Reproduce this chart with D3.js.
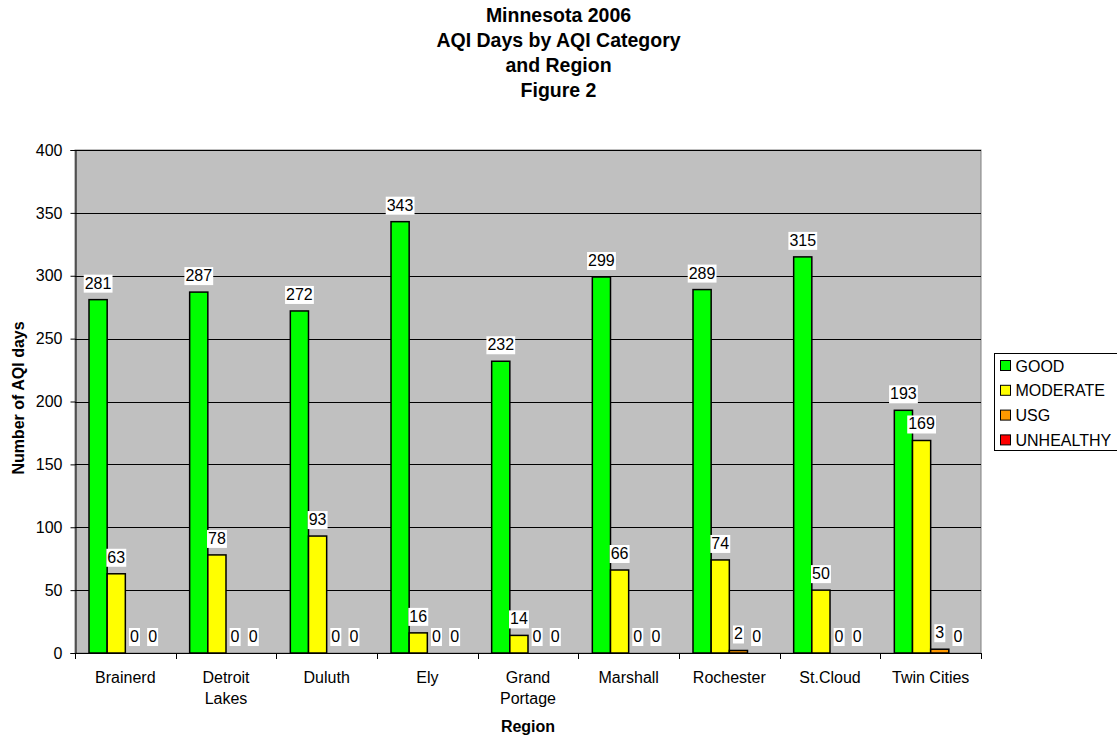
<!DOCTYPE html>
<html>
<head>
<meta charset="utf-8">
<script src="https://cdn.jsdelivr.net/npm/d3@7"></script>
<style>
  body { margin: 0; background: #fff; }
  svg { font-family: "Liberation Sans", Arial, sans-serif; }
</style>
</head>
<body>
<svg width="1117" height="738"></svg>
<script>
const regions = [["Brainerd"], ["Detroit", "Lakes"], ["Duluth"], ["Ely"], ["Grand", "Portage"],
    ["Marshall"], ["Rochester"], ["St.Cloud"], ["Twin Cities"]];
const categories = ["GOOD", "MODERATE", "USG", "UNHEALTHY"];
const colors = ["#00FF00", "#FFFF00", "#FF9900", "#FF0000"];
const good = [281, 287, 272, 343, 232, 299, 289, 315, 193];
const moderate = [63, 78, 93, 16, 14, 66, 74, 50, 169];
const usg = [0, 0, 0, 0, 0, 0, 2, 0, 3];
const unhealthy = [0, 0, 0, 0, 0, 0, 0, 0, 0];
const series = [good, moderate, usg, unhealthy];
const yTicks = [0, 50, 100, 150, 200, 250, 300, 350, 400];
const titleLines = ["Minnesota 2006", "AQI Days by AQI Category", "and Region", "Figure 2"];

var svg = d3.select("svg");
var pLeft = 75, pRight = 981, pTop = 150, pBottom = 653;
var fs = 16;

// title
svg.append("text")
    .attr("text-anchor", "middle")
    .attr("font-size", 19.5)
    .attr("font-weight", "bold")
    .selectAll("tspan")
    .data(titleLines)
    .join("tspan")
    .attr("x", 558.5)
    .attr("y", (d, i) => 21.5 + i * 25.3)
    .text(d => d);

var x0 = d3.scaleBand()
    .domain(d3.range(regions.length))
    .range([pLeft, pRight]);

var gap = 14;
var x1 = d3.scaleBand()
    .domain(d3.range(categories.length))
    .range([gap, x0.bandwidth() - gap]);

var y = d3.scaleLinear()
    .domain([0, 400])
    .range([pBottom, pTop]);

// plot background
svg.append("rect")
    .attr("x", pLeft).attr("y", pTop)
    .attr("width", pRight - pLeft).attr("height", pBottom - pTop)
    .attr("fill", "#C0C0C0")
    .attr("stroke", "#808080");

// gridlines
svg.append("g")
    .selectAll("line")
    .data(yTicks.slice(1))
    .join("line")
    .attr("x1", pLeft).attr("x2", pRight)
    .attr("y1", d => Math.round(y(d)) + 0.5).attr("y2", d => Math.round(y(d)) + 0.5)
    .attr("stroke", "#000").attr("stroke-width", 1);

// y axis
var yAxis = svg.append("g")
    .attr("transform", "translate(" + (pLeft + 0.5) + ",0)")
    .call(d3.axisLeft(y).tickValues(yTicks).tickSize(5).tickPadding(8));
yAxis.select(".domain").attr("stroke", "#000");
yAxis.selectAll("text").attr("font-size", fs).attr("font-family", "Liberation Sans, Arial, sans-serif").attr("fill", "#000");

// x axis
var xAxisG = svg.append("g");
xAxisG.append("line")
    .attr("x1", pLeft).attr("x2", pRight)
    .attr("y1", pBottom + 0.5).attr("y2", pBottom + 0.5)
    .attr("stroke", "#000");
xAxisG.selectAll("line.tick")
    .data(d3.range(regions.length + 1))
    .join("line")
    .attr("class", "tick")
    .attr("x1", d => Math.round(pLeft + d * x0.step()) + 0.5)
    .attr("x2", d => Math.round(pLeft + d * x0.step()) + 0.5)
    .attr("y1", pBottom).attr("y2", pBottom + 6)
    .attr("stroke", "#000");
xAxisG.selectAll("text")
    .data(regions)
    .join("text")
    .attr("text-anchor", "middle")
    .attr("font-size", fs)
    .selectAll("tspan")
    .data((d, i) => d.map(s => ({ s: s, i: i })))
    .join("tspan")
    .attr("x", d => x0(d.i) + x0.bandwidth() / 2)
    .attr("y", (d, j) => 683 + j * 21)
    .text(d => d.s);

// axis titles
svg.append("text")
    .attr("x", x0(4) + x0.bandwidth() / 2).attr("y", 731.5)
    .attr("text-anchor", "middle")
    .attr("font-size", fs).attr("font-weight", "bold")
    .text("Region");
svg.append("text")
    .attr("transform", "translate(24," + 398 + ") rotate(-90)")
    .attr("text-anchor", "middle")
    .attr("font-size", fs).attr("font-weight", "bold")
    .text("Number of AQI days");

// bars
var groups = svg.append("g")
    .selectAll("g")
    .data(regions.map((r, i) => i))
    .join("g")
    .attr("transform", d => "translate(" + x0(d) + ",0)");

groups.selectAll("rect")
    .data(i => series.map((s, k) => ({ k: k, v: s[i] })))
    .join("rect")
    .attr("x", d => x1(d.k))
    .attr("y", d => y(d.v))
    .attr("width", x1.bandwidth())
    .attr("height", d => pBottom - y(d.v))
    .attr("fill", d => colors[d.k])
    .attr("stroke", "#000")
    .attr("stroke-width", d => d.v > 0 ? 1.5 : 0);

// value labels
var labels = groups.selectAll("g.lbl")
    .data(i => series.map((s, k) => ({ k: k, v: s[i] })))
    .join("g")
    .attr("class", "lbl");

labels.each(function(d) {
    var g = d3.select(this);
    var cx = x1(d.k) + x1.bandwidth() / 2;
    var t = g.append("text")
        .attr("x", cx).attr("y", y(d.v) - 11)
        .attr("text-anchor", "middle")
        .attr("font-size", fs)
        .text(d.v);
    var bb = t.node().getBBox();
    g.insert("rect", "text")
        .attr("x", bb.x - 1).attr("y", bb.y)
        .attr("width", bb.width + 2).attr("height", bb.height + 1)
        .attr("fill", "#fff");
});

// legend
var legend = svg.append("g");
legend.append("rect")
    .attr("x", 994.5).attr("y", 353.5)
    .attr("width", 140).attr("height", 97)
    .attr("fill", "#fff").attr("stroke", "#000");
var items = legend.selectAll("g.item")
    .data(categories)
    .join("g")
    .attr("class", "item")
    .attr("transform", (d, i) => "translate(1000.5," + (365.5 + i * 24.8) + ")");
items.append("rect")
    .attr("x", 0).attr("y", -5)
    .attr("width", 10).attr("height", 10)
    .attr("fill", (d, i) => colors[i])
    .attr("stroke", "#000");
items.append("text")
    .attr("x", 15).attr("y", 6)
    .attr("font-size", fs)
    .text(d => d);
</script>
</body>
</html>
